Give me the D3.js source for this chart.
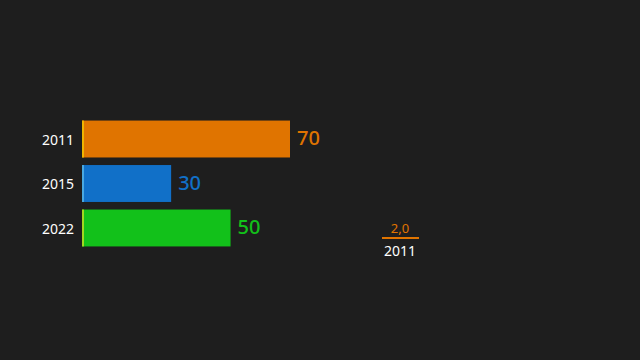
<!DOCTYPE html>
<html>
<head>
<meta charset="utf-8">
<script src="https://cdn.jsdelivr.net/npm/d3@7"></script>
<style>
  html, body { margin: 0; padding: 0; background: #1e1e1e; }
  svg { display: block; font-family: "Noto Sans", sans-serif; }
</style>
</head>
<body>
<script>
const years = ["2011", "2015", "2022"];
const values = [70, 30, 50];
const colors = ["#e07400", "#1170c8", "#12c11a"];
const accentColors = ["#f0b400", "#4aa8e0", "#a0d820"];
const markerValue = "2,0";
const markerYear = "2011";

const w = 640;
const h = 360;

const svg = d3.select("body").append("svg")
  .attr("width", w)
  .attr("height", h);

svg.append("rect")
  .attr("width", w)
  .attr("height", h)
  .attr("fill", "#1e1e1e");

const xScale = d3.scaleLinear()
  .domain([0, 70])
  .range([82, 290]);

const yScale = d3.scaleBand()
  .domain(years)
  .range([117, 250])
  .paddingInner(0.17)
  .paddingOuter(0.08);

const rows = svg.selectAll("g.row")
  .data(years)
  .enter()
  .append("g")
  .attr("class", "row");

rows.append("rect")
  .attr("x", xScale(0))
  .attr("y", (d) => yScale(d))
  .attr("width", (d, i) => xScale(values[i]) - xScale(0))
  .attr("height", yScale.bandwidth())
  .attr("fill", (d, i) => colors[i]);

// thin accent at the bar start
rows.append("rect")
  .attr("x", xScale(0))
  .attr("y", (d) => yScale(d))
  .attr("width", 2)
  .attr("height", yScale.bandwidth())
  .attr("fill", (d, i) => accentColors[i]);

rows.append("text")
  .attr("x", 42)
  .attr("y", (d) => yScale(d) + yScale.bandwidth() / 2 + 1)
  .attr("dy", "0.35em")
  .attr("fill", "#ffffff")
  .attr("font-size", 14)
  .text((d) => d);

rows.append("text")
  .attr("x", (d, i) => xScale(values[i]) + 7)
  .attr("y", (d) => yScale(d) + yScale.bandwidth() / 2 - 1)
  .attr("dy", "0.35em")
  .attr("fill", (d, i) => colors[i])
  .attr("font-size", 20)
  .attr("font-weight", 500)
  .text((d, i) => values[i]);

// small marker on the right
const marker = svg.append("g").attr("transform", "translate(400,0)");
marker.append("text")
  .attr("y", 233)
  .attr("text-anchor", "middle")
  .attr("fill", colors[0])
  .attr("font-size", 13)
  .text(markerValue);
marker.append("line")
  .attr("x1", -18)
  .attr("x2", 19)
  .attr("y1", 238)
  .attr("y2", 238)
  .attr("stroke", colors[0])
  .attr("stroke-width", 2);
marker.append("text")
  .attr("y", 256)
  .attr("text-anchor", "middle")
  .attr("fill", "#ffffff")
  .attr("font-size", 14)
  .text(markerYear);
</script>
</body>
</html>
